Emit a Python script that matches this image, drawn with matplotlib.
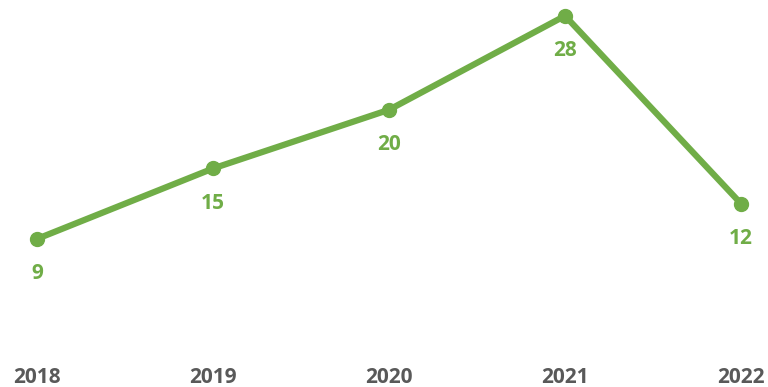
import matplotlib.pyplot as plt

years = ['2018', '2019', '2020', '2021', '2022']
values = [9, 15, 20, 28, 12]

green = '#70AD47'
grey = '#595959'

plt.rcParams['font.family'] = ['Open Sans', 'DejaVu Sans']

fig = plt.figure(figsize=(7.68, 3.87), dpi=100)
ax = fig.add_axes([0, 0.1096, 1, 0.8904])

x = list(range(len(years)))
ax.plot(x, values, color=green, linewidth=4.5, marker='o', markersize=10,
        solid_capstyle='round')

# value labels sit under each point
for xi, v in zip(x, values):
    ax.annotate(str(v), (xi, v), xytext=(0, -25), textcoords='offset points',
                ha='center', va='center', color=green, fontsize=15,
                fontweight='bold')

ax.set_xlim(-0.21, 4.153)
ax.set_ylim(0, 29.35)
ax.set_xticks(x)
ax.set_xticklabels(years, fontsize=15, fontweight='bold', color=grey)
ax.tick_params(axis='x', length=0, pad=16)
ax.set_yticks([])
for s in ax.spines.values():
    s.set_visible(False)

fig.savefig('out.png', dpi=100)
